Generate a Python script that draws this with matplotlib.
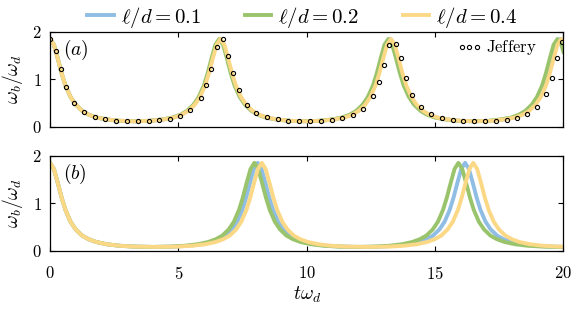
import matplotlib
matplotlib.use("Agg")
from matplotlib import pyplot as plt

plt.rcParams['mathtext.fontset'] = 'cm'
plt.rcParams['font.family'] = 'serif'
plt.rcParams['font.serif'] = ['cmr10']
plt.rcParams['axes.formatter.use_mathtext'] = True

labels = [r'$\ell/d=0.1$', r'$\ell/d=0.2$', r'$\ell/d=0.4$']
colors = ['#8fbde3', '#9ac46c', '#fbd886']

# ---- panel (a) ----
t_blue_a = [0, 0.15, 0.3, 0.45, 0.6, 0.8, 1.0, 1.25, 1.5, 1.8, 2.2, 2.7,
            3.31,
            3.92, 4.42, 4.82, 5.12, 5.37, 5.62, 5.82, 6.02, 6.17, 6.32, 6.47,
            6.62, 6.77, 6.92, 7.07, 7.22, 7.42, 7.62, 7.87, 8.12, 8.42, 8.82, 9.32,
            9.94,
            10.55, 11.05, 11.45, 11.75, 12.00, 12.25, 12.45, 12.65, 12.80, 12.95, 13.10,
            13.25, 13.40, 13.55, 13.70, 13.85, 14.05, 14.25, 14.50, 14.75, 15.05, 15.45, 15.95,
            16.57,
            17.18, 17.68, 18.08, 18.38, 18.63, 18.88, 19.08, 19.28, 19.43, 19.58, 19.73,
            19.88, 20.0]
w_blue_a = [1.85, 1.73, 1.44, 1.13, 0.87, 0.63, 0.47, 0.34, 0.26, 0.20, 0.16, 0.13,
            0.12,
            0.13, 0.16, 0.20, 0.26, 0.34, 0.47, 0.63, 0.87, 1.13, 1.44, 1.73,
            1.85, 1.73, 1.44, 1.13, 0.87, 0.63, 0.47, 0.34, 0.26, 0.20, 0.16, 0.13,
            0.12,
            0.13, 0.16, 0.20, 0.26, 0.34, 0.47, 0.63, 0.87, 1.13, 1.44, 1.73,
            1.85, 1.73, 1.44, 1.13, 0.87, 0.63, 0.47, 0.34, 0.26, 0.20, 0.16, 0.13,
            0.12,
            0.13, 0.16, 0.20, 0.26, 0.34, 0.47, 0.63, 0.87, 1.13, 1.44, 1.73,
            1.85, 1.76]

t_green_a = [0, 0.15, 0.3, 0.45, 0.6, 0.8, 1.0, 1.25, 1.5, 1.8, 2.2, 2.7,
             3.30,
             3.89, 4.39, 4.79, 5.09, 5.34, 5.59, 5.79, 5.99, 6.14, 6.29, 6.44,
             6.59, 6.74, 6.89, 7.04, 7.19, 7.39, 7.59, 7.84, 8.09, 8.39, 8.79, 9.29,
             9.89,
             10.48, 10.98, 11.38, 11.68, 11.93, 12.18, 12.38, 12.58, 12.73, 12.88, 13.03,
             13.18, 13.33, 13.48, 13.63, 13.78, 13.98, 14.18, 14.43, 14.68, 14.98, 15.38, 15.88,
             16.48,
             17.07, 17.57, 17.97, 18.27, 18.52, 18.77, 18.97, 19.17, 19.32, 19.47, 19.62,
             19.77, 19.92, 20.0]
w_green_a = [1.85, 1.73, 1.44, 1.13, 0.87, 0.63, 0.47, 0.34, 0.26, 0.20, 0.16, 0.13,
             0.12,
             0.13, 0.16, 0.20, 0.26, 0.34, 0.47, 0.63, 0.87, 1.13, 1.44, 1.73,
             1.85, 1.73, 1.44, 1.13, 0.87, 0.63, 0.47, 0.34, 0.26, 0.20, 0.16, 0.13,
             0.12,
             0.13, 0.16, 0.20, 0.26, 0.34, 0.47, 0.63, 0.87, 1.13, 1.44, 1.73,
             1.85, 1.73, 1.44, 1.13, 0.87, 0.63, 0.47, 0.34, 0.26, 0.20, 0.16, 0.13,
             0.12,
             0.13, 0.16, 0.20, 0.26, 0.34, 0.47, 0.63, 0.87, 1.13, 1.44, 1.73,
             1.85, 1.73, 1.58]

t_yellow_a = [0, 0.15, 0.3, 0.45, 0.6, 0.8, 1.0, 1.25, 1.5, 1.8, 2.2, 2.7,
              3.32,
              3.94, 4.44, 4.84, 5.14, 5.39, 5.64, 5.84, 6.04, 6.19, 6.34, 6.49,
              6.64, 6.79, 6.94, 7.09, 7.24, 7.44, 7.64, 7.89, 8.14, 8.44, 8.84, 9.34,
              9.96,
              10.58, 11.08, 11.48, 11.78, 12.03, 12.28, 12.48, 12.68, 12.83, 12.98, 13.13,
              13.28, 13.43, 13.58, 13.73, 13.88, 14.08, 14.28, 14.53, 14.78, 15.08, 15.48, 15.98,
              16.60,
              17.22, 17.72, 18.12, 18.42, 18.67, 18.92, 19.12, 19.32, 19.47, 19.62, 19.77,
              19.92, 20.0]
w_yellow_a = [1.85, 1.73, 1.44, 1.13, 0.87, 0.63, 0.47, 0.34, 0.26, 0.20, 0.16, 0.13,
              0.12,
              0.13, 0.16, 0.20, 0.26, 0.34, 0.47, 0.63, 0.87, 1.13, 1.44, 1.73,
              1.85, 1.73, 1.44, 1.13, 0.87, 0.63, 0.47, 0.34, 0.26, 0.20, 0.16, 0.13,
              0.12,
              0.13, 0.16, 0.20, 0.26, 0.34, 0.47, 0.63, 0.87, 1.13, 1.44, 1.73,
              1.85, 1.73, 1.44, 1.13, 0.87, 0.63, 0.47, 0.34, 0.26, 0.20, 0.16, 0.13,
              0.12,
              0.13, 0.16, 0.20, 0.26, 0.34, 0.47, 0.63, 0.87, 1.13, 1.44, 1.73,
              1.85, 1.81]

# Jeffery orbit points
t_jeff = [0.00, 0.22, 0.41, 0.63, 0.95, 1.31, 1.75, 2.15, 2.57, 2.98, 3.41,
          3.85, 4.25, 4.67, 5.08, 5.47, 5.87, 6.09, 6.28, 6.50, 6.72,
          6.95, 7.13, 7.35, 7.67, 8.03, 8.47, 8.87, 9.29, 9.70, 10.13,
          10.57, 10.97, 11.39, 11.80, 12.19, 12.59, 12.81, 13.00, 13.20, 13.48,
          13.66, 13.87, 14.11, 14.44, 14.83, 15.26, 15.69, 16.10, 16.53,
          16.95, 17.36, 17.79, 18.20, 18.59, 18.96, 19.31, 19.54, 19.74, 19.93]
w_jeff = [1.85, 1.60, 1.21, 0.83, 0.50, 0.32, 0.21, 0.16, 0.136, 0.123, 0.120,
          0.126, 0.143, 0.176, 0.238, 0.356, 0.616, 0.887, 1.228, 1.676, 1.84,
          1.50, 1.13, 0.77, 0.47, 0.30, 0.204, 0.159, 0.134, 0.122, 0.120,
          0.127, 0.145, 0.181, 0.247, 0.373, 0.657, 0.950, 1.311, 1.72, 1.75,
          1.44, 1.02, 0.68, 0.42, 0.27, 0.189, 0.149, 0.129, 0.120,
          0.121, 0.131, 0.154, 0.197, 0.274, 0.42, 0.70, 1.04, 1.44, 1.78]

# ---- panel (b) ----
t_blue_b = [0, 0.15, 0.3, 0.45, 0.6, 0.8, 1.0, 1.25, 1.5, 1.8, 2.2, 2.7, 3.3,
            4.05,
            4.79, 5.39, 5.89, 6.29, 6.59, 6.84, 7.09, 7.29, 7.49, 7.64, 7.79, 7.94,
            8.09, 8.24, 8.39, 8.54, 8.69, 8.89, 9.09, 9.34, 9.59, 9.89, 10.29, 10.79, 11.39,
            12.13,
            12.87, 13.47, 13.97, 14.37, 14.67, 14.92, 15.17, 15.37, 15.57, 15.72, 15.87, 16.02,
            16.17, 16.32, 16.47, 16.62, 16.77, 16.97, 17.17, 17.42, 17.67, 17.97, 18.37, 18.87, 19.47,
            20.0]
t_green_b = [0, 0.15, 0.3, 0.45, 0.6, 0.8, 1.0, 1.25, 1.5, 1.8, 2.2, 2.7, 3.3,
             3.98,
             4.66, 5.26, 5.76, 6.16, 6.46, 6.71, 6.96, 7.16, 7.36, 7.51, 7.66, 7.81,
             7.96, 8.11, 8.26, 8.41, 8.56, 8.76, 8.96, 9.21, 9.46, 9.76, 10.16, 10.66, 11.26,
             11.94,
             12.61, 13.21, 13.71, 14.11, 14.41, 14.66, 14.91, 15.11, 15.31, 15.46, 15.61, 15.76,
             15.91, 16.06, 16.21, 16.36, 16.51, 16.71, 16.91, 17.16, 17.41, 17.71, 18.11, 18.61, 19.21,
             20.0]
t_yellow_b = [0, 0.15, 0.3, 0.45, 0.6, 0.8, 1.0, 1.25, 1.5, 1.8, 2.2, 2.7, 3.3,
              4.13,
              4.95, 5.55, 6.05, 6.45, 6.75, 7.00, 7.25, 7.45, 7.65, 7.80, 7.95, 8.10,
              8.25, 8.40, 8.55, 8.70, 8.85, 9.05, 9.25, 9.50, 9.75, 10.05, 10.45, 10.95, 11.55,
              12.37,
              13.19, 13.79, 14.29, 14.69, 14.99, 15.24, 15.49, 15.69, 15.89, 16.04, 16.19, 16.34,
              16.49, 16.64, 16.79, 16.94, 17.09, 17.29, 17.49, 17.74, 17.99, 18.29, 18.69, 19.19, 19.79,
              20.0]
w_blue_b = [1.85, 1.72, 1.43, 1.12, 0.86, 0.61, 0.45, 0.32, 0.245, 0.186, 0.139, 0.107, 0.089,
            0.082,
            0.089, 0.107, 0.139, 0.186, 0.245, 0.32, 0.45, 0.61, 0.86, 1.12, 1.43, 1.72,
            1.85, 1.72, 1.43, 1.12, 0.86, 0.61, 0.45, 0.32, 0.245, 0.186, 0.139, 0.107, 0.089,
            0.082,
            0.089, 0.107, 0.139, 0.186, 0.245, 0.32, 0.45, 0.61, 0.86, 1.12, 1.43, 1.72,
            1.85, 1.72, 1.43, 1.12, 0.86, 0.61, 0.45, 0.32, 0.245, 0.186, 0.139, 0.107, 0.089,
            0.083]
w_green_b = [1.85, 1.72, 1.43, 1.12, 0.86, 0.61, 0.45, 0.32, 0.245, 0.186, 0.139, 0.107, 0.089,
             0.082,
             0.089, 0.107, 0.139, 0.186, 0.245, 0.32, 0.45, 0.61, 0.86, 1.12, 1.43, 1.72,
             1.85, 1.72, 1.43, 1.12, 0.86, 0.61, 0.45, 0.32, 0.245, 0.186, 0.139, 0.107, 0.089,
             0.082,
             0.089, 0.107, 0.139, 0.186, 0.245, 0.32, 0.45, 0.61, 0.86, 1.12, 1.43, 1.72,
             1.85, 1.72, 1.43, 1.12, 0.86, 0.61, 0.45, 0.32, 0.245, 0.186, 0.139, 0.107, 0.089,
             0.082]
w_yellow_b = [1.85, 1.72, 1.43, 1.12, 0.86, 0.61, 0.45, 0.32, 0.245, 0.186, 0.139, 0.107, 0.089,
              0.082,
              0.089, 0.107, 0.139, 0.186, 0.245, 0.32, 0.45, 0.61, 0.86, 1.12, 1.43, 1.72,
              1.85, 1.72, 1.43, 1.12, 0.86, 0.61, 0.45, 0.32, 0.245, 0.186, 0.139, 0.107, 0.089,
              0.082,
              0.089, 0.107, 0.139, 0.186, 0.245, 0.32, 0.45, 0.61, 0.86, 1.12, 1.43, 1.72,
              1.85, 1.72, 1.43, 1.12, 0.86, 0.61, 0.45, 0.32, 0.245, 0.186, 0.139, 0.107, 0.089,
              0.087]

fig = plt.figure(figsize=(5.82, 3.12), dpi=100)
ax1 = fig.add_axes([0.086, 0.593, 0.882, 0.305])
ax2 = fig.add_axes([0.086, 0.196, 0.882, 0.305])

lw = 2.8
ax1.plot(t_blue_a, w_blue_a, color=colors[0], lw=lw)
ax1.plot(t_green_a, w_green_a, color=colors[1], lw=lw)
ax1.plot(t_yellow_a, w_yellow_a, color=colors[2], lw=lw)
jeff, = ax1.plot(t_jeff, w_jeff, 'o', mfc='none', mec='black', ms=3.0, mew=0.8)

h1, = ax2.plot(t_blue_b, w_blue_b, color=colors[0], lw=lw)
h2, = ax2.plot(t_green_b, w_green_b, color=colors[1], lw=lw)
h3, = ax2.plot(t_yellow_b, w_yellow_b, color=colors[2], lw=lw)

for ax in (ax1, ax2):
    ax.set_xlim(0, 20)
    ax.set_ylim(0, 2)
    ax.set_xticks([0, 5, 10, 15, 20])
    ax.set_yticks([0, 1, 2])
    ax.tick_params(direction='in', top=True, right=True, labelsize=12,
                   length=3.5, width=0.8)
    ax.tick_params(axis='y', pad=6)
    ax.tick_params(axis='x', pad=10)
    ax.set_ylabel(r'$\omega_b/\omega_d$', fontsize=14, labelpad=5)
    for s in ax.spines.values():
        s.set_linewidth(0.9)

ax1.tick_params(labelbottom=False)
ax2.set_xlabel(r'$t\omega_d$', fontsize=14, labelpad=2)

ax1.text(0.026, 0.76, r'$(a)$', transform=ax1.transAxes, fontsize=14)
ax2.text(0.026, 0.76, r'$(b)$', transform=ax2.transAxes, fontsize=14)

ax1.legend([jeff], [r'$\mathrm{Jeffery}$'], loc='upper right',
           bbox_to_anchor=(0.948, 0.93), frameon=False,
           numpoints=3, handlelength=1.5, handletextpad=0.25, fontsize=12,
           borderaxespad=0, borderpad=0)

fig.legend([h1, h2, h3], labels, loc='upper center', bbox_to_anchor=(0.52, 1.045),
           ncol=3, frameon=False, fontsize=15, handlelength=1.25,
           handletextpad=0.35, columnspacing=2.1)

fig.savefig('out.png', dpi=100)
